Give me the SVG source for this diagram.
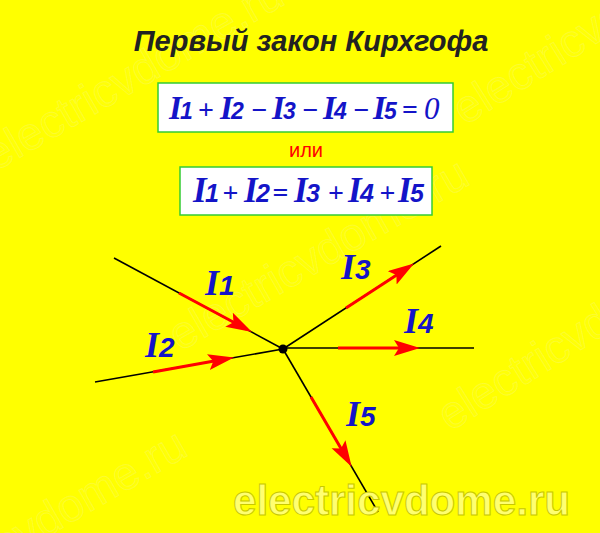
<svg xmlns="http://www.w3.org/2000/svg" width="600" height="533" viewBox="0 0 600 533">
<style>
.wm{font-family:"Liberation Sans",Arial,sans-serif;font-size:46px;fill:#ffffff;fill-opacity:.05;stroke:#f4f4c8;stroke-width:1;stroke-opacity:.22}
.title{font-family:"Liberation Sans",Arial,sans-serif;font-weight:bold;font-style:italic;font-size:29px;fill:#222222}
.box{fill:#ffffff;stroke:#33cc33;stroke-width:1.5}
.f{font-family:"Liberation Serif","Times New Roman",serif;fill:#1414c8}
.I{font-weight:bold;font-style:italic;font-size:33px}
.d{font-family:"Liberation Sans",Arial,sans-serif;font-weight:bold;font-style:italic;font-size:23px}
.f2 .I{font-size:35px}
.f2 .d{font-size:25px}
.op{font-size:28px;font-weight:bold}
.zero{font-style:italic;font-size:31px}
.or{font-family:"Liberation Sans",Arial,sans-serif;font-size:20px;fill:#ff0000}
.wire{stroke:#000000;stroke-width:1.6;fill:none}
.cur{stroke:#ff0000;stroke-width:3;fill:none;marker-end:url(#arr)}
.lab{font-family:"Liberation Serif","Times New Roman",serif;font-weight:bold;font-style:italic;font-size:36px;fill:#1414c8}
.ld{font-family:"Liberation Sans",Arial,sans-serif;font-size:28px}
.site{font-family:"Liberation Sans",Arial,sans-serif;font-weight:bold;font-size:43px;fill:#ffff70;stroke:#c8c800;stroke-width:1}
</style>
<defs>
<marker id="arr" markerUnits="userSpaceOnUse" markerWidth="30" markerHeight="20" refX="20" refY="8" orient="auto">
<path d="M26,8 L0,0 L5,8 L0,16 Z" fill="#ff0000"/>
</marker>
</defs>
<rect x="0" y="0" width="600" height="533" fill="#ffff00"/>
<g id="watermarks">
<text class="wm" transform="translate(-5,172) rotate(-30)">electricvdome.ru</text>
<text class="wm" transform="translate(180,352) rotate(-30)">electricvdome.ru</text>
<text class="wm" transform="translate(465,126) rotate(-32)">electricvdome.ru</text>
<text class="wm" transform="translate(-102,623) rotate(-30)">electricvdome.ru</text>
<text class="wm" transform="translate(450,432) rotate(-32)">electricvdome.ru</text>
</g>
<g id="title">
<text class="title" x="311" y="51" text-anchor="middle">Первый закон Кирхгофа</text>
</g>
<g id="formula1">
<rect class="box" x="158" y="83" width="295" height="49"/>
<text class="f" y="119"><tspan class="I" x="169">I</tspan><tspan class="d" x="180">1</tspan><tspan class="op" x="198">+</tspan><tspan class="I" x="220">I</tspan><tspan class="d" x="231">2</tspan><tspan class="op" x="251.5">−</tspan><tspan class="I" x="272">I</tspan><tspan class="d" x="283">3</tspan><tspan class="op" x="302.5">−</tspan><tspan class="I" x="323">I</tspan><tspan class="d" x="334">4</tspan><tspan class="op" x="353.5">−</tspan><tspan class="I" x="373">I</tspan><tspan class="d" x="384">5</tspan><tspan class="op" x="402">=</tspan><tspan class="zero" x="424">0</tspan></text>
</g>
<g id="or">
<text class="or" x="306" y="157" text-anchor="middle">или</text>
</g>
<g id="formula2" class="f2">
<rect class="box" x="180" y="167" width="252" height="48"/>
<text class="f" y="202"><tspan class="I" x="193">I</tspan><tspan class="d" x="205">1</tspan><tspan class="op" x="222.5">+</tspan><tspan class="I" x="244">I</tspan><tspan class="d" x="256">2</tspan><tspan class="op" x="272.5">=</tspan><tspan class="I" x="294">I</tspan><tspan class="d" x="306">3</tspan><tspan class="op" x="328">+</tspan><tspan class="I" x="348">I</tspan><tspan class="d" x="360">4</tspan><tspan class="op" x="379.5">+</tspan><tspan class="I" x="398">I</tspan><tspan class="d" x="410">5</tspan></text>
</g>
<g id="connectors">
<line class="wire" x1="114" y1="258" x2="283" y2="349"/>
<line class="wire" x1="95" y1="382" x2="283" y2="349"/>
<line class="wire" x1="283" y1="349" x2="441" y2="246"/>
<line class="wire" x1="283" y1="348" x2="474" y2="348"/>
<line class="wire" x1="283" y1="349" x2="378" y2="512"/>
<line class="cur" x1="179" y1="293" x2="246.7" y2="329.2"/>
<line class="cur" x1="153" y1="372" x2="228.1" y2="358.6"/>
<line class="cur" x1="346" y1="308" x2="409" y2="266.9"/>
<line class="cur" x1="338" y1="348" x2="414" y2="348"/>
<line class="cur" x1="311" y1="397" x2="348.6" y2="461.5"/>
</g>
<g id="junction">
<circle cx="283" cy="349" r="4.5" fill="#000000"/>
</g>
<g id="label-I1"><text class="lab" x="205" y="295">I<tspan class="ld">1</tspan></text></g>
<g id="label-I2"><text class="lab" x="145" y="357">I<tspan class="ld">2</tspan></text></g>
<g id="label-I3"><text class="lab" x="341" y="279">I<tspan class="ld">3</tspan></text></g>
<g id="label-I4"><text class="lab" x="404" y="333">I<tspan class="ld">4</tspan></text></g>
<g id="label-I5"><text class="lab" x="346" y="426">I<tspan class="ld">5</tspan></text></g>
<g id="site">
<text class="site" x="233" y="515" textLength="337" lengthAdjust="spacingAndGlyphs">electricvdome.ru</text>
</g>
</svg>
